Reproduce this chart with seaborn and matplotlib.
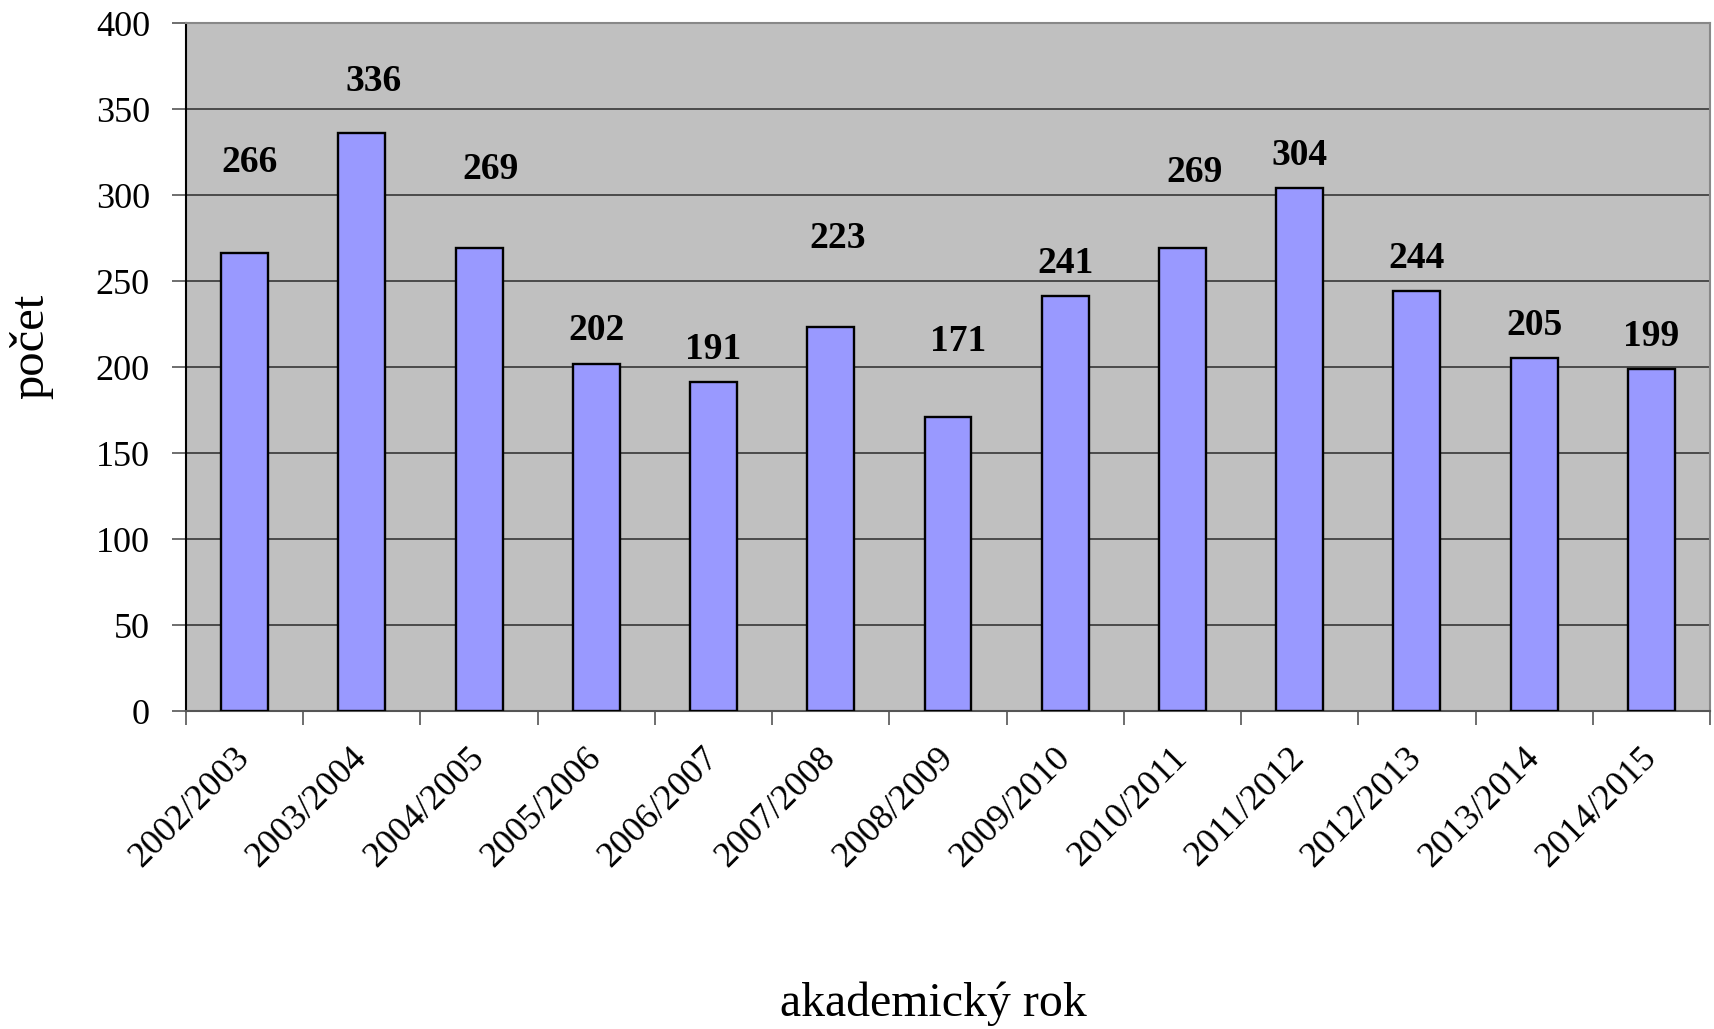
import matplotlib
matplotlib.use("Agg")
import matplotlib.pyplot as plt
import seaborn as sns
import pandas as pd

years = ["2002/2003", "2003/2004", "2004/2005", "2005/2006", "2006/2007",
         "2007/2008", "2008/2009", "2009/2010", "2010/2011", "2011/2012",
         "2012/2013", "2013/2014", "2014/2015"]
counts = [266, 336, 269, 202, 191, 223, 171, 241, 269, 304, 244, 205, 199]
yticks = [0, 50, 100, 150, 200, 250, 300, 350, 400]

# label placement offsets as in the original chart (data units / category units)
label_dy = [53, 30, 46, 19, 19, 52, 44, 19, 44, 19, 19, 19, 19]
label_dx = [0.045, 0.10, 0.095, 0, 0, 0.06, 0.085, 0, 0.10, 0, 0, 0, 0]

df = pd.DataFrame({"rok": years, "pocet": counts})

sns.set_theme(style="white")
plt.rcParams["font.family"] = ["Liberation Serif", "DejaVu Serif"]
plt.rcParams["text.color"] = "black"
plt.rcParams["xtick.color"] = "black"
plt.rcParams["ytick.color"] = "black"
plt.rcParams["axes.labelcolor"] = "black"

fig = plt.figure(figsize=(17.14, 10.29), dpi=100)
ax = fig.add_axes([186 / 1714, 1 - 711 / 1029, (1710 - 186) / 1714, (711 - 23) / 1029])
ax.set_facecolor("#C0C0C0")

sns.barplot(data=df, x="rok", y="pocet", color="#9999FF", saturation=1,
            edgecolor="black", linewidth=1.7, width=0.4, ax=ax, zorder=3)

ax.set_ylim(0, 400)
ax.set_xlim(-0.5, len(years) - 0.5)
ax.set_yticks(yticks)
ax.set_yticklabels([str(t) for t in yticks], fontsize=26)
ax.yaxis.grid(True, color="#2a2a2a", linewidth=1.1, zorder=0)
ax.set_axisbelow(True)

# category boundary ticks on x axis
ax.set_xticks([i - 0.5 for i in range(len(years) + 1)], minor=False)
ax.set_xticklabels([])
ax.set_xticks(range(len(years)), minor=True)
ax.set_xticklabels(years, minor=True, rotation=45, ha="right", va="center",
                   rotation_mode="anchor", fontsize=26)
ax.tick_params(axis="x", which="major", direction="out", length=10, width=1.2,
               color="#555555", bottom=True)
ax.tick_params(axis="x", which="minor", length=0, pad=30)
ax.tick_params(axis="y", direction="out", length=10, width=1.2, color="#555555",
               left=True, pad=16)

for s in ["top", "right"]:
    ax.spines[s].set_color("#888888")
    ax.spines[s].set_linewidth(1.5)
ax.spines["left"].set_color("black")
ax.spines["left"].set_linewidth(1.5)
ax.spines["bottom"].set_color("#555555")
ax.spines["bottom"].set_linewidth(1.5)

for i, (v, dy, dx) in enumerate(zip(counts, label_dy, label_dx)):
    ax.text(i + dx, v + dy, str(v), ha="center", va="center", fontsize=27,
            fontweight="bold", color="black", zorder=5)

ax.set_xlabel("")
ax.set_ylabel("")
fig.text(933 / 1714, 1 - 1004 / 1029, "akademický rok", ha="center", va="center",
         fontsize=34.5)
fig.text(31 / 1714, 1 - 346 / 1029, "počet", ha="center", va="center",
         fontsize=35, rotation=90)

fig.savefig("out.png", dpi=100)
